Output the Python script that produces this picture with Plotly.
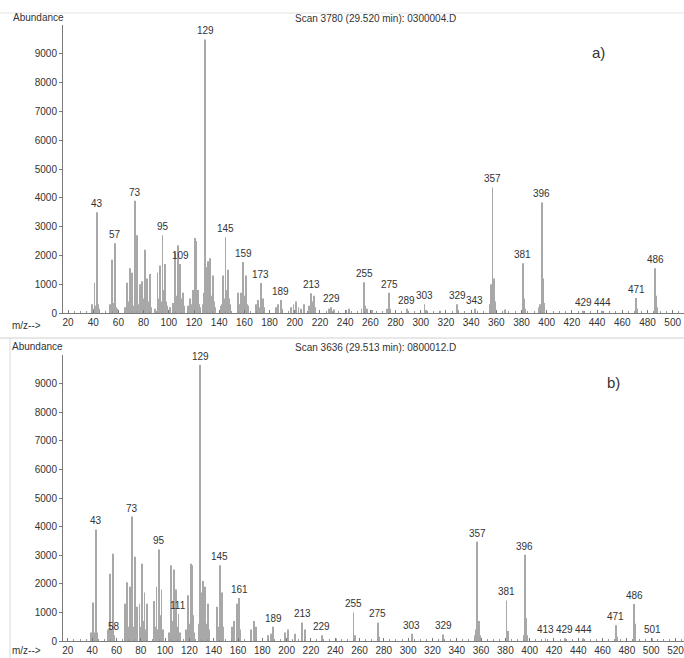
import plotly.graph_objects as go

# ---------------- data: panel a ----------------
mz_a = [39, 40, 41, 42, 43, 44, 45, 53, 54, 55, 56, 57, 58, 59, 65, 66, 67, 68, 69, 70,
        71, 72, 73, 74, 75, 76, 77, 78, 79, 80, 81, 82, 83, 84, 85, 86, 89, 91, 92, 93,
        94, 95, 96, 97, 98, 99, 101, 103, 105, 106, 107, 108, 109, 110, 111, 112, 115, 116, 117, 118,
        119, 120, 121, 122, 123, 124, 125, 127, 128, 129, 130, 131, 132, 133, 134, 135, 136, 137, 141, 142,
        143, 144, 145, 146, 147, 148, 149, 155, 156, 157, 158, 159, 160, 161, 162, 163, 169, 171, 172, 173,
        174, 175, 176, 185, 187, 189, 190, 197, 199, 201, 203, 205, 207, 211, 213, 214, 215, 216, 227, 229,
        231, 241, 243, 253, 255, 256, 257, 261, 273, 275, 276, 289, 303, 304, 315, 329, 330, 343, 355, 356,
        357, 358, 359, 367, 381, 382, 383, 394, 395, 396, 397, 398, 429, 444, 471, 472, 486, 487, 488]
abund_a = [300, 150, 1050, 250, 3500, 300, 150, 300, 200, 1850, 350, 2420, 200, 150, 200, 150, 1050, 400, 1550, 450,
           1400, 250, 3900, 450, 2700, 300, 1000, 250, 1100, 500, 2200, 700, 1200, 400, 1350, 200, 150, 1400, 500, 1650,
           400, 2700, 800, 1700, 400, 250, 200, 350, 2100, 600, 2350, 700, 1700, 500, 700, 250, 250, 200, 500, 300,
           800, 600, 2600, 2500, 800, 300, 200, 300, 700, 9500, 1600, 1800, 500, 1900, 600, 1300, 400, 200, 250, 300,
           1300, 500, 2630, 800, 1500, 500, 300, 700, 300, 700, 400, 1770, 600, 1300, 300, 250, 300, 450, 200, 1040,
           350, 500, 200, 200, 300, 450, 150, 200, 300, 400, 200, 150, 300, 250, 690, 400, 600, 200, 150, 200,
           120, 100, 150, 150, 1070, 250, 150, 100, 150, 700, 150, 150, 300, 100, 80, 300, 100, 150, 300, 1000,
           4360, 1200, 400, 120, 1730, 500, 150, 200, 300, 3840, 1200, 350, 80, 80, 520, 150, 1550, 600, 200]
labels_a = [43, 57, 73, 95, 109, 129, 145, 159, 173, 189, 213, 229, 255, 275, 289, 303, 329, 343,
            357, 381, 396, 429, 444, 471, 486]
xticks_a = list(range(20, 501, 20))

# ---------------- data: panel b ----------------
mz_b = [39, 41, 42, 43, 44, 53, 55, 56, 57, 58, 67, 68, 69, 70, 71, 72, 73, 74, 75, 76,
        77, 79, 80, 81, 82, 83, 84, 85, 91, 92, 93, 94, 95, 96, 97, 98, 103, 105, 106, 107,
        108, 109, 110, 111, 112, 117, 119, 120, 121, 122, 123, 124, 128, 129, 130, 131, 132, 133, 134, 135,
        136, 143, 144, 145, 146, 147, 148, 155, 157, 159, 160, 161, 162, 171, 173, 175, 185, 187, 189, 199,
        201, 207, 213, 215, 229, 241, 255, 256, 275, 276, 303, 329, 355, 356, 357, 358, 359, 381, 382, 395,
        396, 397, 398, 413, 429, 444, 471, 472, 486, 487, 501]
abund_b = [300, 1350, 300, 3900, 300, 400, 2350, 400, 3050, 200, 1300, 400, 2050, 500, 1900, 300, 4350, 500, 2950, 300,
           1200, 1300, 500, 2700, 700, 1700, 400, 1300, 1400, 500, 1900, 400, 3200, 900, 1800, 400, 300, 2650, 700, 2500,
           700, 1800, 500, 950, 300, 400, 1600, 600, 2700, 2650, 900, 300, 600, 9650, 1700, 2100, 500, 1900, 600, 1300,
           400, 1200, 500, 2650, 800, 1700, 500, 500, 700, 1300, 500, 1500, 400, 400, 700, 500, 200, 250, 500, 300,
           400, 250, 650, 400, 200, 100, 1000, 200, 650, 150, 250, 230, 200, 400, 3470, 700, 200, 1420, 350, 200,
           3020, 800, 200, 100, 100, 100, 550, 150, 1290, 600, 100]
labels_b = [43, 58, 73, 95, 111, 129, 145, 161, 189, 213, 229, 255, 275, 303, 329, 357, 381, 396,
            413, 429, 444, 471, 486, 501]
xticks_b = list(range(20, 521, 20))

yticks = list(range(0, 9001, 1000))

title_a = "Scan 3780 (29.520 min): 0300004.D"
title_b = "Scan 3636 (29.513 min): 0800012.D"

# ---------------- layout geometry ----------------
W, H = 684, 658
ML, MR, MT, MB = 63, 0, 25, 17
PW, PH = W - ML - MR, H - MT - MB


def px(xp, yp):
    """convert page pixel to paper coords"""
    return (xp - ML) / PW, (H - MB - yp) / PH


FONT = "Liberation Sans, Arial, sans-serif"
TXT = "#333333"
BAR = "#a8a8a8"

fig = go.Figure()
fig.add_trace(go.Bar(x=mz_a, y=abund_a, width=0.7, marker_color=BAR, marker_line_width=0,
                     xaxis="x", yaxis="y", showlegend=False))
fig.add_trace(go.Bar(x=mz_b, y=abund_b, width=0.7, marker_color=BAR, marker_line_width=0,
                     xaxis="x2", yaxis="y2", showlegend=False))

ya_top = (H - MB - 25) / PH
ya_bot = (H - MB - 313) / PH
yb_top = (H - MB - 355) / PH

axis_common = dict(showline=True, linecolor="#7a7a7a", linewidth=1, showgrid=False, zeroline=False,
                   tickfont=dict(family=FONT, size=10, color=TXT), ticklen=3,
                   tickcolor="#7a7a7a", automargin=False)
xminor = dict(dtick=5, ticks="inside", ticklen=2, tickcolor="#999999")

fig.update_layout(
    width=W, height=H,
    margin=dict(l=ML, r=MR, t=MT, b=MB, autoexpand=False),
    paper_bgcolor="white", plot_bgcolor="white",
    font=dict(family=FONT, size=10, color=TXT),
    barmode="overlay",
    xaxis=dict(domain=[0, 1], range=[16, 509], anchor="y", tickvals=xticks_a, ticks="inside",
               minor=xminor, ticklabeloverflow="allow", **axis_common),
    yaxis=dict(domain=[ya_bot, ya_top], range=[0, 10000], anchor="x", tickvals=yticks, ticks="outside",
               **axis_common),
    xaxis2=dict(domain=[0, 1], range=[16, 527], anchor="y2", tickvals=xticks_b, ticks="inside",
                minor=xminor, ticklabeloverflow="allow", **axis_common),
    yaxis2=dict(domain=[0, yb_top], range=[0, 10000], anchor="x2", tickvals=yticks, ticks="outside",
                **axis_common),
)

ann = []
for labs, mz, ab, xr, yr in [(labels_a, mz_a, abund_a, "x", "y"), (labels_b, mz_b, abund_b, "x2", "y2")]:
    d = dict(zip(mz, ab))
    for m in labs:
        ann.append(dict(x=m, y=d[m], xref=xr, yref=yr, text=str(m), showarrow=False,
                        yanchor="bottom", xanchor="center", yshift=1,
                        font=dict(family=FONT, size=10, color=TXT)))


def text_at(xp, yp, t, size=10, anchor="left"):
    x, y = px(xp, yp)
    ann.append(dict(x=x, y=y, xref="paper", yref="paper", text=t, showarrow=False,
                    xanchor=anchor, yanchor="middle", font=dict(family=FONT, size=size, color=TXT)))


text_at(11, 18, "Abundance")
text_at(375, 19, title_a, anchor="center")
text_at(598, 53, "a)", size=15, anchor="center")
text_at(10, 325, "m/z-->")
text_at(10, 346, "Abundance")
text_at(375, 347, title_b, anchor="center")
text_at(613, 382, "b)", size=15, anchor="center")
text_at(10, 650, "m/z-->")
fig.update_layout(annotations=ann)

# faint frame lines from the scanned printout
shapes = []
for (x0, y0, x1, y1, c) in [(0, 13, W, 13, "#e4e4e4"), (0, 338, W, 338, "#d0d0d0"),
                            (10, 338, 10, H, "#d8d8d8")]:
    a0, b0 = px(x0, y0)
    a1, b1 = px(x1, y1)
    shapes.append(dict(type="line", xref="paper", yref="paper", x0=a0, y0=b0, x1=a1, y1=b1,
                       line=dict(color=c, width=1)))
fig.update_layout(shapes=shapes)

# remove the browser's default 8px body margin so the figure fills the window exactly
fig.write_html("out.html", config={"displayModeBar": False},
               post_script="document.body.style.margin='0px';document.body.style.overflow='hidden';")
